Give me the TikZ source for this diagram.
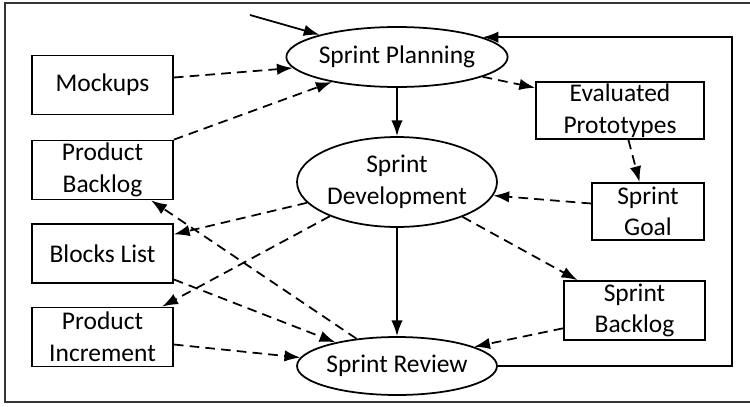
\documentclass[tikz,border=0pt]{standalone}
\usepackage{fontspec}
\setmainfont{Carlito}
\usepackage{tikz}
\usetikzlibrary{shapes.geometric}
\usetikzlibrary{arrows.meta}

\begin{document}
\begin{tikzpicture}[x=0.02cm,y=-0.02cm,line width=1pt,
	font=\fontsize{14.5}{18}\selectfont,
	box/.style={draw,rectangle,align=center,inner sep=0pt,minimum height=1.18cm},
	oval/.style={draw,ellipse,align=center,inner sep=0pt,minimum width=4cm},
	flow/.style={-{Latex[length=9pt,width=6.5pt]}},
	dflow/.style={flow,dash pattern=on 5.5pt off 3.5pt}]
	\useasboundingbox (0,0) rectangle (750,406);
	\draw[black!80] (750,3) -- (5,3) -- (5,402) -- (750,402);
	\node[oval,minimum height=1.2cm] (plan) at (397,57) {Sprint Planning};
	\node[oval,minimum height=1.8cm] (dev) at (397,182) {Sprint\\Development};
	\node[oval,minimum height=1.16cm] (rev) at (397,366) {Sprint Review};
	\node[box,minimum width=2.82cm] (mock) at (102.5,85) {Mockups};
	\node[box,minimum width=2.82cm] (pback) at (102.5,170) {Product\\Backlog};
	\node[box,minimum width=2.82cm] (blocks) at (102.5,253.5) {Blocks List};
	\node[box,minimum width=2.82cm] (incr) at (102.5,337) {Product\\Increment};
	\node[box,minimum width=3.36cm,minimum height=1.14cm] (evp) at (620,110.5) {Evaluated\\Prototypes};
	\node[box,minimum width=2.24cm,minimum height=1.14cm] (goal) at (648,211.5) {Sprint\\Goal};
	\node[box,minimum width=2.82cm] (sback) at (634.5,310.5) {Sprint\\Backlog};
	\coordinate (start) at (250,15);
	\coordinate (fb) at (732,366);
	\draw[flow] (start) -- (plan.164);
	\draw[flow] (plan.south) -- (dev.north);
	\draw[flow] (dev.south) -- (rev.north);
	\draw[flow] (rev.east) -- (fb) |- (plan.13);
	\draw[dflow] (mock.6) -- (plan.186);
	\draw[dflow] (pback.north east) -- (plan.201);
	\draw[dflow] (plan.347) -- (evp.165);
	\draw[dflow] (evp.286) -- (goal.106);
	\draw[dflow] (goal.172) -- (dev.352);
	\draw[dflow] (dev.193) -- (blocks.15);
	\draw[dflow] (dev.207) -- (incr.27);
	\draw[dflow] (dev.332) -- (sback.152);
	\draw[dflow] (blocks.340) -- (rev.159);
	\draw[dflow] (rev.146) -- (pback.328);
	\draw[dflow] (incr.354) -- (rev.175);
	\draw[dflow] (sback.194) -- (rev.14);
\end{tikzpicture}
\end{document}
